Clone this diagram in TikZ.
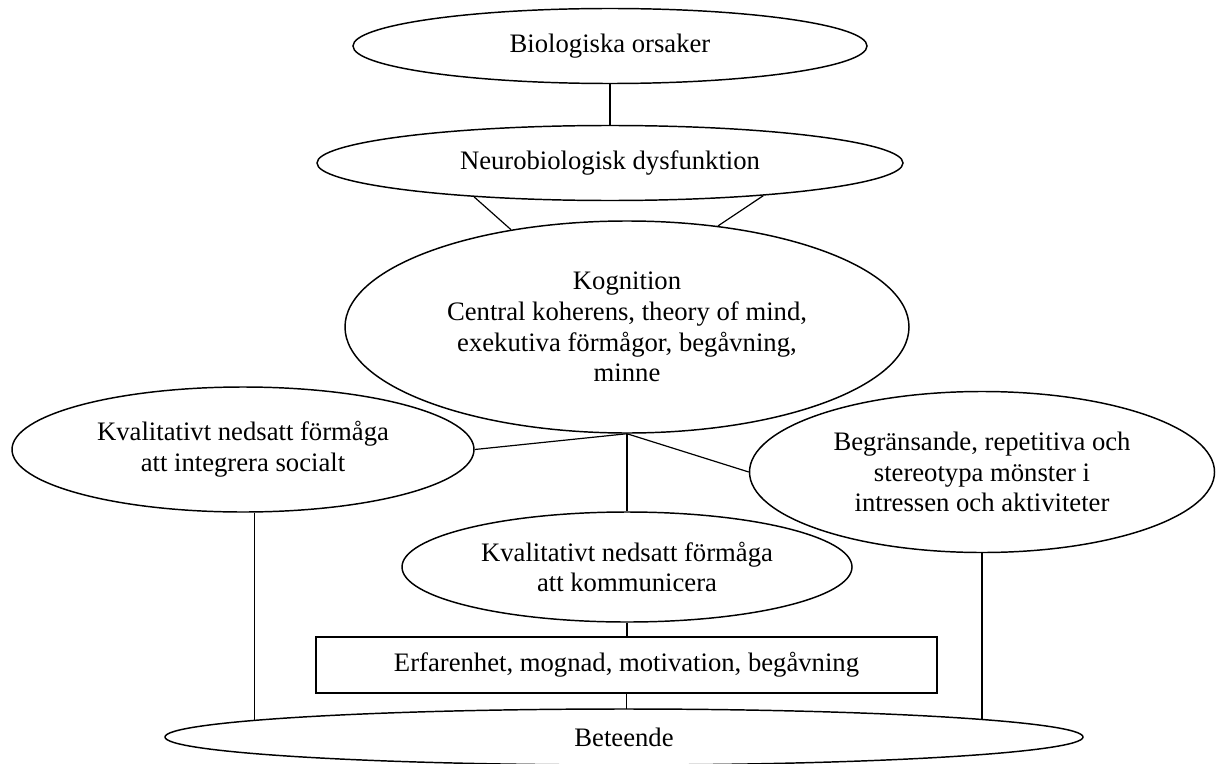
\documentclass[tikz,border=0pt]{standalone}
\usepackage{fontspec}
\setmainfont{Liberation Serif}
\usetikzlibrary{shapes.geometric, backgrounds}
\tikzset{
  every picture/.style={line width=0.9pt},
  oval/.style={draw, ellipse, fill=white, line width=1.1pt, inner sep=0pt, align=center, font=\fontsize{20}{23}\selectfont},
  frame/.style={draw, rectangle, fill=white, line width=1.1pt, inner sep=0pt, align=center, font=\fontsize{20}{23}\selectfont},
  link/.style={draw=black, line width=0.9pt},
}

\begin{document}
\begin{tikzpicture}[x=0.75pt, y=-0.75pt]
  \useasboundingbox (0,0) rectangle (1226,763);
  % causes
  \node[oval, minimum width=385.5pt, minimum height=56.25pt] (bio) at (610,46) {Biologiska orsaker};
  \node[oval, minimum width=439.5pt, minimum height=56.25pt] (neuro) at (610,163) {Neurobiologisk dysfunktion};
  \node[oval, minimum width=423pt, minimum height=159pt] (kog) at (627,327) {Kognition\\Central koherens, theory of mind,\\exekutiva förmågor, begåvning,\\minne};
  % the three areas
  \node[oval, minimum width=346.5pt, minimum height=93.75pt] (soc) at (243,449.5) {Kvalitativt nedsatt förmåga\\att integrera socialt};
  \node[oval, minimum width=348.75pt, minimum height=120.75pt] (rep) at (982,472) {Begränsande, repetitiva och\\stereotypa mönster i\\intressen och aktiviteter};
  \node[oval, minimum width=337.5pt, minimum height=82.5pt] (komm) at (627,567) {Kvalitativt nedsatt förmåga\\att kommunicera};
  % behaviour
  \node[frame, minimum width=465.75pt, minimum height=42pt] (erf) at (626.5,665) {Erfarenhet, mognad, motivation, begåvning};
  \node[oval, minimum width=688.5pt, minimum height=42pt] (bet) at (624,737) {Beteende};
  \begin{scope}[on background layer]
    \draw[link] (bio.south) -- (neuro.north);
    \draw[link] (neuro.-166) -- (kog.140); \draw[link] (neuro.-12) -- (kog.48);
    \draw[link] (kog.south) -- (soc.east); \draw[link] (kog.south) -- (rep.west); \draw[link] (kog.south) -- (komm.north);
    \draw[link] (komm.south) -- (komm.south |- erf.north); \draw[link] (erf.south) -- (erf.south |- bet.center);
    \draw[link] (soc.-80) -- (soc.-80 |- bet.center);
    \draw[link] (rep.south) -- (rep.south |- bet.center);
  \end{scope}
\end{tikzpicture}
\end{document}
